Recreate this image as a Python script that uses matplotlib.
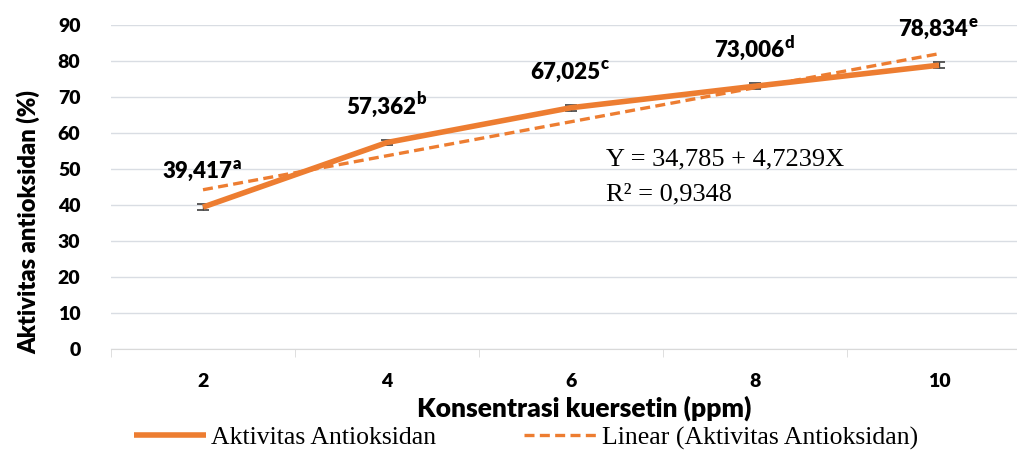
import matplotlib.pyplot as plt
import numpy as np

# data
konsentrasi = [2, 4, 6, 8, 10]
aktivitas = [39.417, 57.362, 67.025, 73.006, 78.834]
galat = [0.8, 0.8, 0.8, 0.8, 0.8]
notasi = ["a", "b", "c", "d", "e"]
label_teks = ["39,417", "57,362", "67,025", "73,006", "78,834"]

sans = 'Lato'
serif = 'Liberation Serif'
berat = 'heavy'
oranye = '#ED7D31'

fig = plt.figure(figsize=(10.17, 4.54), dpi=100)
ax = fig.add_axes([111 / 1017, 105 / 454, 920 / 1017, 324 / 454])

pos = np.arange(len(konsentrasi))
ax.errorbar(pos, aktivitas, yerr=galat, fmt='none', ecolor='#404040',
            elinewidth=1, capsize=4.5, capthick=1.2, zorder=2)
ax.plot(pos, aktivitas, color=oranye, lw=4, solid_capstyle='butt',
        label='Aktivitas Antioksidan', zorder=3)

# linear trend on concentration
b, a = np.polyfit(konsentrasi, aktivitas, 1)
tren = [a + b * x for x in konsentrasi]
ax.plot(pos, tren, color=oranye, lw=2.4, ls=(0, (3, 1.6)),
        label='Linear (Aktivitas Antioksidan)', zorder=4)

# data labels with letter notation as superscript
for i, (t, n) in enumerate(zip(label_teks, notasi)):
    utama = ax.annotate(t, (pos[i], aktivitas[i]), xytext=(-4, 18),
                        textcoords='offset points', ha='center', va='bottom',
                        fontsize=16, fontweight=berat, family=sans)
    ax.annotate(n, xy=(1, 1), xycoords=utama, xytext=(0, 4),
                textcoords='offset points', ha='left', va='top',
                fontsize=12, fontweight=berat, family=sans)

ax.text(0.538, 0.585, "Y = 34,785 + 4,7239X", transform=ax.transAxes,
        fontsize=19, family=serif, va='center')
ax.text(0.538, 0.477, "R² = 0,9348", transform=ax.transAxes,
        fontsize=19, family=serif, va='center')

ax.set_xlim(-0.5, 4.5)
ax.set_ylim(0, 90)
ax.set_yticks(range(0, 91, 10))
ax.set_xticks(pos)
ax.set_xticklabels([str(k) for k in konsentrasi])
ax.set_xticks(np.arange(-0.5, 5, 1), minor=True)
ax.tick_params(axis='x', which='major', length=0, pad=17)
ax.tick_params(axis='x', which='minor', length=6, color='#d9d9d9')
ax.tick_params(axis='y', length=0, pad=22)
for lab in ax.get_xticklabels() + ax.get_yticklabels():
    lab.set_fontweight(berat)
    lab.set_fontsize(14)
    lab.set_family(sans)

ax.grid(axis='y', color='#d9dde3', lw=1)
ax.set_axisbelow(True)
for s in ['top', 'right', 'left']:
    ax.spines[s].set_visible(False)
ax.spines['bottom'].set_color('#d9d9d9')

ax.set_xlabel("Konsentrasi kuersetin (ppm)", fontsize=19, fontweight=berat,
              family=sans)
ax.xaxis.set_label_coords(0.514, -0.182)
ax.xaxis.label.set_va('center')
ax.set_ylabel("Aktivitas antioksidan (%)", fontsize=17, fontweight=berat,
              family=sans)
ax.yaxis.set_label_coords(-0.090, 0.392)
ax.yaxis.label.set_va('center')

fig.legend(loc='center', bbox_to_anchor=(0.517, 0.035), ncol=2, frameon=False,
           prop={'family': serif, 'size': 18.5}, handlelength=2.8,
           handletextpad=0.23, columnspacing=3.4, borderaxespad=0)

fig.savefig('out.png', dpi=100)
